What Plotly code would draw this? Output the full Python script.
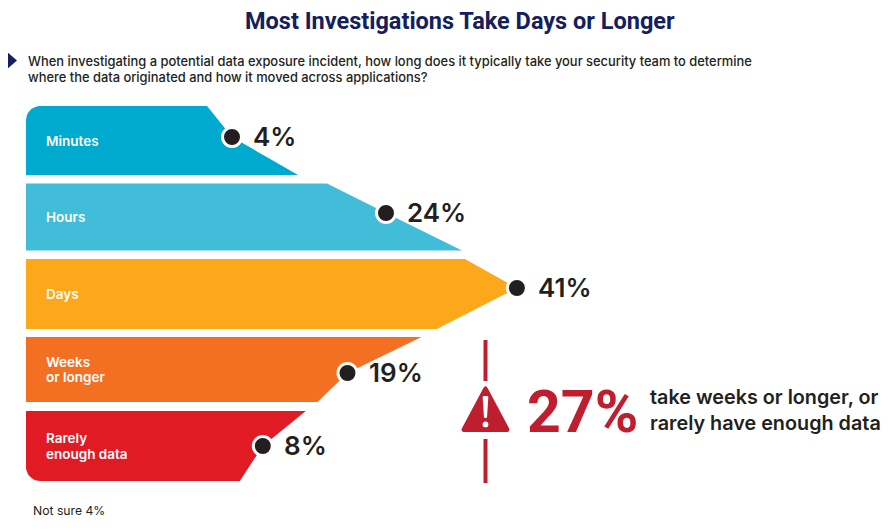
import numpy as np
import plotly.graph_objs as go

categories = ['Minutes', 'Hours', 'Days', 'Weeks<br>or longer', 'Rarely<br>enough data']
values = [4, 24, 41, 19, 8]
value_labels = ['4%', '24%', '41%', '19%', '8%']
bar_colors = ['#00A9CE', '#41BDD9', '#FCA81A', '#F37023', '#E01B24']

title_text = 'Most Investigations Take Days or Longer'
question_lines = ['When investigating a potential data exposure incident, how long does it typically take your security team to determine',
                  'where the data originated and how it moved across applications?']
callout_value = '27%'
callout_lines = ['take weeks or longer, or', 'rarely have enough data']
not_sure_text = 'Not sure 4%'

PAGE_W, PAGE_H = 893, 532
OFF = 8                      # default body margin of the html page
W, H = PAGE_W - OFF, PAGE_H - OFF
X_ZERO = 201.2      # page pixel where 0% sits
PX_PER_PCT = 7.7    # pixels per percentage point
LEFT = 26
R = 14
RED = '#BE1E2D'
INK = '#231F20'
NAVY = '#14205E'

# band geometry in page px: top, dot y, bottom, top-corner offset and bottom-corner offset from the dot
bands = [
    (106, 137, 175, -25, 66),
    (183.5, 213, 250.5, -59, 76),
    (259, 288, 329, -52, -80),
    (337, 373, 402, 74, -30),
    (411, 446, 481, 43, -23),
]


def to_pct(px):
    return (px - X_ZERO) / PX_PER_PCT


def xp(px):
    return (px - OFF) / W


def arc(cx, cy, a0, a1, n=10):
    t = np.linspace(a0, a1, n)
    return list(cx + R * np.cos(t)), list(cy + R * np.sin(t))


fig = go.Figure()

# the arrow shaped bands
for i, (cat, v, col, b) in enumerate(zip(categories, values, bar_colors, bands)):
    top, dot_y, bottom, top_off, bot_off = b
    xs, ys = [], []
    if i == 0:
        ax, ay = arc(LEFT + R, top + R, np.pi, 1.5 * np.pi)
        xs += [to_pct(a) for a in ax]
        ys += ay
    else:
        xs.append(to_pct(LEFT))
        ys.append(top)
    xs += [v + top_off / PX_PER_PCT, v, v + bot_off / PX_PER_PCT]
    ys += [top, dot_y, bottom]
    if i == len(values) - 1:
        ax, ay = arc(LEFT + R, bottom - R, 0.5 * np.pi, np.pi)
        xs += [to_pct(a) for a in ax]
        ys += ay
    else:
        xs.append(to_pct(LEFT))
        ys.append(bottom)
    xs.append(xs[0])
    ys.append(ys[0])
    fig.add_trace(go.Scatter(
        x=xs, y=ys, mode='lines', fill='toself', fillcolor=col,
        line=dict(width=0, color=col), hoverinfo='skip', showlegend=False
    ))

dot_ys = [b[1] for b in bands]

fig.add_trace(go.Scatter(
    x=values, y=dot_ys, mode='markers',
    marker=dict(size=19, color=INK, line=dict(color='white', width=3)),
    hoverinfo='skip', showlegend=False
))

annotations = []

# value labels next to the dots
for v, y, lab in zip(values, dot_ys, value_labels):
    annotations.append(dict(
        x=v, y=y, xref='x', yref='y', text=lab, showarrow=False,
        xanchor='left', yanchor='middle', xshift=19, yshift=1,
        font=dict(family='Inter', size=26, color=INK, weight=600)
    ))

# category labels inside the bands
for cat, b in zip(categories, bands):
    mid = (b[0] + b[2]) / 2
    lines = cat.split('<br>')
    for k, line in enumerate(lines):
        off = (k - (len(lines) - 1) / 2) * 15.5
        annotations.append(dict(
            x=xp(44), y=mid + off, xref='paper', yref='y', text=line, showarrow=False,
            xanchor='left', yanchor='middle',
            font=dict(family='Inter', size=13.5, color='white', weight=600)
        ))

# title and question
annotations.append(dict(
    x=xp(460), y=20.5, xref='paper', yref='y', text='<b>' + title_text + '</b>', showarrow=False,
    xanchor='center', yanchor='middle',
    font=dict(family='Roboto', size=23.5, color=NAVY)
))
for k, line in enumerate(question_lines):
    annotations.append(dict(
        x=xp(26), y=61 + 16 * k, xref='paper', yref='y', text=line, showarrow=False,
        xanchor='left', yanchor='middle',
        font=dict(family='Inter', size=12.9, color=INK, weight=500)
    ))

annotations.append(dict(
    x=xp(31), y=510, xref='paper', yref='y', text=not_sure_text, showarrow=False,
    xanchor='left', yanchor='middle',
    font=dict(family='Inter', size=12.2, color=INK)
))

# callout on the right
annotations.append(dict(
    x=xp(525), y=411, xref='paper', yref='y', text='<b>' + callout_value + '</b>', showarrow=False,
    xanchor='left', yanchor='middle',
    font=dict(family='Roboto', size=59, color=RED)
))
for k, line in enumerate(callout_lines):
    annotations.append(dict(
        x=xp(648), y=397 + 26 * k, xref='paper', yref='y', text=line, showarrow=False,
        xanchor='left', yanchor='middle',
        font=dict(family='Inter', size=19.8, color=INK, weight=600)
    ))


def rounded_path(pts, r):
    # closed polygon with rounded corners, points in page px, path in paper / y units
    n = len(pts)
    segs = []
    for i in range(n):
        p0 = np.array(pts[i - 1], float)
        p1 = np.array(pts[i], float)
        p2 = np.array(pts[(i + 1) % n], float)
        a = p1 + (p0 - p1) / np.linalg.norm(p0 - p1) * r
        b = p1 + (p2 - p1) / np.linalg.norm(p2 - p1) * r
        segs.append((a, p1, b))
    d = 'M %f,%f ' % (xp(segs[0][0][0]), segs[0][0][1])
    for a, c, b in segs:
        d += 'L %f,%f Q %f,%f %f,%f ' % (xp(a[0]), a[1], xp(c[0]), c[1], xp(b[0]), b[1])
    return d + 'Z'


shapes = [
    # question marker
    dict(type='path', xref='paper', yref='y',
         path='M %f,52 L %f,60.5 L %f,69 Z' % (xp(7), xp(17), xp(7)),
         fillcolor=NAVY, line=dict(width=0)),
    # vertical rule broken by the warning sign
    dict(type='line', xref='paper', yref='y', x0=xp(485.5), x1=xp(485.5), y0=340, y1=381,
         line=dict(color=RED, width=4)),
    dict(type='line', xref='paper', yref='y', x0=xp(485.5), x1=xp(485.5), y0=439, y1=483,
         line=dict(color=RED, width=4)),
    # warning triangle
    dict(type='path', xref='paper', yref='y',
         path=rounded_path([(485.5, 384), (511, 432), (460, 432)], 5),
         fillcolor=RED, line=dict(width=0)),
    dict(type='path', xref='paper', yref='y',
         path=rounded_path([(482.6, 396), (488.4, 396), (487, 418), (484, 418)], 1.2),
         fillcolor='white', line=dict(width=0)),
    dict(type='circle', xref='paper', yref='y', x0=xp(482.6), x1=xp(488.4), y0=421.5, y1=427.3,
         fillcolor='white', line=dict(width=0)),
]

fig.update_layout(
    width=W, height=H, autosize=False,
    margin=dict(l=0, r=0, t=0, b=0),
    paper_bgcolor='white', plot_bgcolor='white',
    xaxis=dict(range=[to_pct(OFF), to_pct(PAGE_W)], visible=False, fixedrange=True),
    yaxis=dict(range=[PAGE_H, OFF], visible=False, fixedrange=True),
    annotations=annotations, shapes=shapes, showlegend=False
)

fig.write_html('out.html')
